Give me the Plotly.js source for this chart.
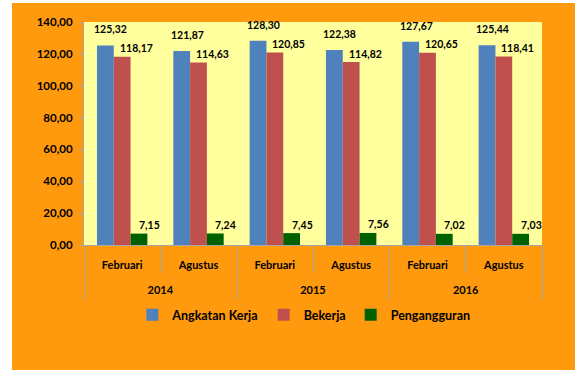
<!DOCTYPE html>
<html>
<head>
<meta charset="utf-8">
<script src="https://cdn.plot.ly/plotly-3.0.1.min.js"></script>
<style>
html,body{margin:0;padding:0;background:#ffffff;width:585px;height:378px;overflow:hidden;}
#chart{position:absolute;left:12px;top:3px;width:563px;height:367px;}
</style>
</head>
<body>
<div id="chart"></div>
<script>
var years = ["2014", "2014", "2015", "2015", "2016", "2016"];
var months = ["Februari", "Agustus", "Februari", "Agustus", "Februari", "Agustus"];
var angkatanKerja = [125.32, 121.87, 128.30, 122.38, 127.67, 125.44];
var bekerja = [118.17, 114.63, 120.85, 114.82, 120.65, 118.41];
var pengangguran = [7.15, 7.24, 7.45, 7.56, 7.02, 7.03];
var seriesNames = ["Angkatan Kerja", "Bekerja", "Pengangguran"];

var FONT = "Lato, 'Open Sans', sans-serif";
var colors = ["#4F81BD", "#C0504D", "#006100"];
var series = [angkatanKerja, bekerja, pengangguran];

// category positions (index of each month/year pair)
var pos = months.map(function (m, i) { return i; });
// unique years and their centre positions
var yearList = [], yearCenters = [];
years.forEach(function (y, i) {
  var k = yearList.indexOf(y);
  if (k < 0) { yearList.push(y); yearCenters.push([i]); }
  else yearCenters[k].push(i);
});
yearCenters = yearCenters.map(function (a) {
  return a.reduce(function (s, v) { return s + v; }, 0) / a.length;
});

var traces = series.map(function (vals, k) {
  return {
    type: "bar",
    name: seriesNames[k],
    x: pos,
    y: vals,
    marker: {color: colors[k], line: {width: 0}},
    hoverinfo: "skip"
  };
});
traces.push({
  type: "scatter", mode: "markers", xaxis: "x2", yaxis: "y",
  x: yearCenters, y: yearCenters.map(function () { return null; }),
  showlegend: false, hoverinfo: "skip"
});

function fmt(v) { return v.toFixed(2).replace(".", ","); }

var bargap = 0.34;
var bw = (1 - bargap) / 3;
var offsets = [-bw, 0, bw];
var xshifts = [5.5, 14, 10.5];
var yshifts = [16, 8.5, 8.5];
var annotations = [];
series.forEach(function (vals, k) {
  vals.forEach(function (v, i) {
    annotations.push({
      xref: "x", yref: "y",
      x: pos[i] + offsets[k], y: v,
      text: fmt(v),
      showarrow: false,
      xanchor: "center", yanchor: "middle",
      xshift: xshifts[k], yshift: yshifts[k],
      font: {family: FONT, size: 10.5, color: "#000000", weight: "bold"}
    });
  });
});

var GRAY = "#A6A6A6";
var range = [-0.5, pos.length - 0.5];
var layout = {
  width: 563, height: 367,
  margin: {l: 72, r: 33, t: 19, b: 125},
  paper_bgcolor: "#FF9A0E",
  plot_bgcolor: "#FFFF9E",
  separators: ",.",
  barmode: "group",
  bargap: bargap,
  bargroupgap: 0,
  showlegend: true,
  font: {family: FONT, size: 10.5, color: "#000000", weight: "bold"},
  xaxis: {
    type: "linear", range: range,
    tickmode: "array", tickvals: pos, ticktext: months,
    ticks: "", ticklabelstandoff: 10,
    minor: {tick0: -0.5, dtick: 1, ticks: "outside", ticklen: 27, tickcolor: GRAY, tickwidth: 1, showgrid: false},
    showline: true, linecolor: GRAY, linewidth: 1,
    tickfont: {family: FONT, size: 11, color: "#000000", weight: "bold"},
    showgrid: false, zeroline: false, fixedrange: true
  },
  xaxis2: {
    type: "linear", range: range, overlaying: "x", anchor: "y", side: "bottom",
    tickmode: "array", tickvals: yearCenters, ticktext: yearList,
    ticks: "", ticklabelstandoff: 37,
    minor: {tick0: -0.5, dtick: 2, ticks: "outside", ticklen: 53, tickcolor: GRAY, tickwidth: 1, showgrid: false},
    showline: false,
    tickfont: {family: FONT, size: 11, color: "#000000", weight: "bold"},
    showgrid: false, zeroline: false, fixedrange: true
  },
  yaxis: {
    range: [0, 140], dtick: 20, tick0: 0,
    tickformat: ".2f",
    showline: true, linecolor: GRAY, linewidth: 1,
    ticks: "outside", ticklen: 4, tickcolor: GRAY, ticklabelstandoff: 4,
    tickfont: {family: FONT, size: 11.5, color: "#000000", weight: "bold"},
    showgrid: false, zeroline: false, fixedrange: true
  },
  legend: {
    orientation: "h",
    x: 0.48, xanchor: "center",
    y: -0.314, yanchor: "middle",
    bgcolor: "rgba(0,0,0,0)",
    font: {family: FONT, size: 12.5, color: "#000000", weight: "bold"},
    itemclick: false, itemdoubleclick: false
  },
  annotations: annotations
};

Plotly.newPlot("chart", traces, layout, {displayModeBar: false, staticPlot: true});
</script>
</body>
</html>
